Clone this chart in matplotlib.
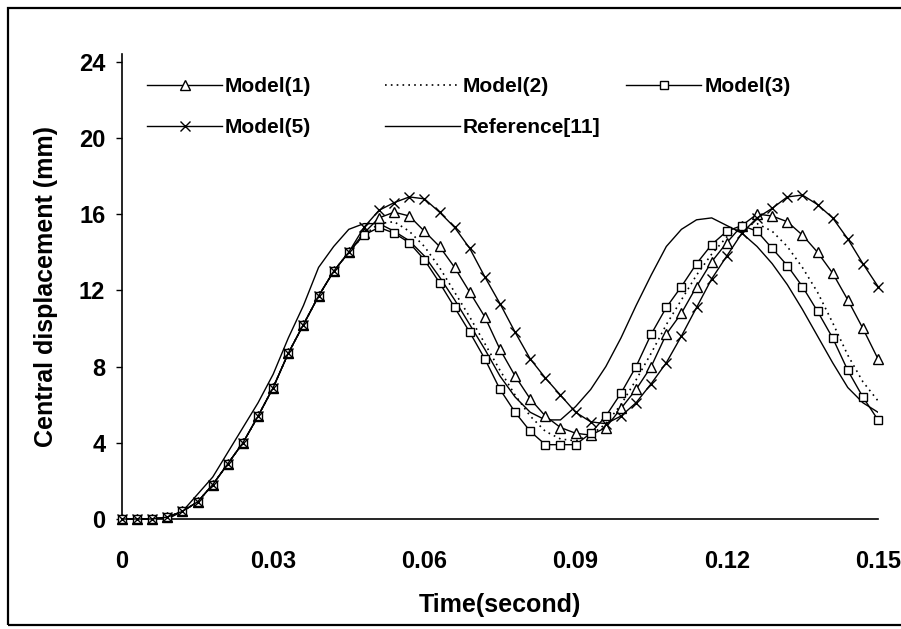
import numpy as np
import matplotlib.pyplot as plt
from matplotlib.patches import Rectangle

plt.rcParams["font.family"] = ["Liberation Sans", "DejaVu Sans"]

# time grid (s), one sample every 0.003 s
time = np.round(np.arange(0, 0.1501, 0.003), 3)

# central displacement (mm)
model1 = [0, 0, 0, 0.1, 0.4, 0.9, 1.8, 2.9, 4.0, 5.4,
          6.9, 8.7, 10.2, 11.7, 13.0, 14.0, 15.0, 15.8, 16.1, 15.9,
          15.1, 14.3, 13.2, 11.9, 10.6, 8.9, 7.5, 6.3, 5.4, 4.8,
          4.5, 4.4, 4.8, 5.8, 6.8, 8.0, 9.7, 10.8, 12.2, 13.5,
          14.5, 15.4, 16.0, 15.9, 15.6, 14.9, 14.0, 12.9, 11.5, 10.0,
          8.4]
model2 = [0, 0, 0, 0.1, 0.4, 0.9, 1.8, 2.9, 4.0, 5.4,
          6.9, 8.7, 10.2, 11.7, 13.0, 14.0, 14.9, 15.5, 15.6, 15.1,
          14.3, 13.2, 11.9, 10.6, 9.2, 7.8, 6.5, 5.4, 4.6, 4.2,
          4.1, 4.4, 5.0, 6.0, 7.3, 8.7, 10.2, 11.5, 12.8, 13.9,
          14.8, 15.4, 15.5, 15.1, 14.3, 13.2, 11.9, 10.3, 8.6, 7.2,
          6.2]
model3 = [0, 0, 0, 0.1, 0.4, 0.9, 1.8, 2.9, 4.0, 5.4,
          6.9, 8.7, 10.2, 11.7, 13.0, 14.0, 14.9, 15.3, 15.0, 14.5,
          13.6, 12.4, 11.1, 9.8, 8.4, 6.8, 5.6, 4.6, 3.9, 3.9,
          3.9, 4.5, 5.4, 6.6, 8.0, 9.7, 11.1, 12.2, 13.4, 14.4,
          15.1, 15.4, 15.1, 14.2, 13.3, 12.2, 10.9, 9.5, 7.8, 6.4,
          5.2]
model5 = [0, 0, 0, 0.1, 0.4, 0.9, 1.8, 2.9, 4.0, 5.4,
          6.9, 8.7, 10.2, 11.7, 13.0, 14.0, 15.3, 16.2, 16.6, 16.9,
          16.8, 16.1, 15.3, 14.2, 12.7, 11.3, 9.8, 8.4, 7.4, 6.5,
          5.6, 5.1, 5.0, 5.4, 6.1, 7.1, 8.2, 9.6, 11.1, 12.6,
          13.8, 15.0, 15.8, 16.3, 16.9, 17.0, 16.5, 15.8, 14.7, 13.4,
          12.2]
reference = [0, 0, 0, 0, 0.4, 1.3, 2.2, 3.5, 4.8, 6.1,
             7.6, 9.5, 11.2, 13.2, 14.3, 15.2, 15.5, 15.5, 15.1, 14.6,
             13.8, 12.7, 11.5, 10.2, 8.9, 7.5, 6.4, 5.6, 5.2, 5.2,
             5.9, 6.8, 8.0, 9.5, 11.2, 12.8, 14.3, 15.2, 15.7, 15.8,
             15.4, 15.0, 14.3, 13.4, 12.3, 11.0, 9.6, 8.2, 6.9, 6.1,
             5.6]

xticks = [0, 0.03, 0.06, 0.09, 0.12, 0.15]
xticklabels = ["0", "0.03", "0.06", "0.09", "0.12", "0.15"]
yticks = [0, 4, 8, 12, 16, 20, 24]

W, H = 901, 629
fig = plt.figure(figsize=(W / 100, H / 100), dpi=100)
ax = fig.add_axes([122 / W, 110 / H, 756 / W, (519 - 54) / H])

# outer frame around the whole picture (right edge is cut off in the scan)
fig.patches.append(Rectangle((8 / W, 4 / H), 1.2, (621 - 4) / H,
                             transform=fig.transFigure, fill=False,
                             edgecolor="black", linewidth=1.6))

lw = 1.0
ln_ref, = ax.plot(time, reference, color="black", lw=lw, zorder=2)
ln2, = ax.plot(time, model2, color="black", lw=1.2, ls=(0, (1, 2.5)), zorder=2)
ln1, = ax.plot(time, model1, color="black", lw=lw, marker="^", ms=6.5,
               mfc="white", mec="black", mew=1.0, zorder=3, clip_on=False)
ln3, = ax.plot(time, model3, color="black", lw=lw, marker="s", ms=6,
               mfc="white", mec="black", mew=1.0, zorder=3, clip_on=False)
ln5, = ax.plot(time, model5, color="black", lw=lw, marker="x", ms=7.5,
               mew=1.0, zorder=3, clip_on=False)

ax.set_xlim(0, 0.15)
ax.set_ylim(0, 24.4)
ax.set_xticks(xticks)
ax.set_xticklabels(xticklabels)
ax.set_yticks(yticks)

for side in ("top", "right"):
    ax.spines[side].set_visible(False)
for side in ("left", "bottom"):
    ax.spines[side].set_linewidth(1.2)

ax.tick_params(axis="x", length=0, pad=22, labelsize=17)
ax.tick_params(axis="y", length=4, width=1, pad=8, labelsize=17,
               direction="out")
for lbl in ax.get_xticklabels() + ax.get_yticklabels():
    lbl.set_fontweight("bold")

ax.set_xlabel("Time(second)", fontsize=18, fontweight="bold", labelpad=15)
ax.set_ylabel("Central displacement (mm)", fontsize=18, fontweight="bold",
              labelpad=15)

# legend laid out as three separate columns, like the original
legend_cols = [
    (147, [ln1, ln5], ["Model(1)", "Model(5)"]),
    (385, [ln2, ln_ref], ["Model(2)", "Reference[11]"]),
    (626, [ln3], ["Model(3)"]),
]
for x0, hs, ls in legend_cols:
    leg = fig.legend(hs, ls, loc="upper left",
                     bbox_to_anchor=(x0 / W, 1 - 77 / H),
                     bbox_transform=fig.transFigure, frameon=False,
                     borderpad=0, borderaxespad=0,
                     handlelength=3.6, handletextpad=0.15,
                     labelspacing=1.05, prop={"size": 15, "weight": "bold"})

fig.savefig("out.png", dpi=100)
